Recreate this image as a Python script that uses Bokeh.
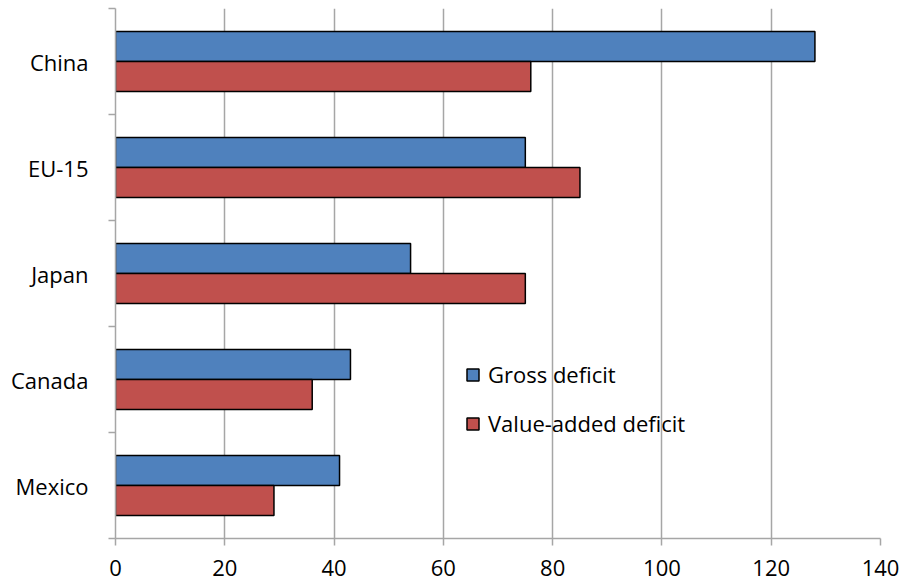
from bokeh.plotting import figure
from bokeh.models import Range1d, FixedTicker, Legend, LegendItem, ColumnDataSource
from bokeh.transform import dodge
from bokeh.embed import file_html
from bokeh.resources import INLINE

categories = ["China", "EU-15", "Japan", "Canada", "Mexico"]
gross_deficit = [128, 75, 54, 43, 41]
value_added_deficit = [76, 85, 75, 36, 29]
x_ticks = [0, 20, 40, 60, 80, 100, 120, 140]

FONT = "Open Sans"
BLUE = "#4F81BD"
RED = "#C0504D"
GRID = "#A6A6A6"

n = len(categories)
pos = [n - i - 0.5 for i in range(n)]  # category slot centres, first category on top

src = ColumnDataSource(dict(pos=pos, gross=gross_deficit, va=value_added_deficit))

p = figure(width=903, height=584, output_backend="svg", toolbar_location=None,
           y_range=Range1d(0, n), x_range=Range1d(0, 140),
           min_border_left=115, min_border_right=23, min_border_top=8, min_border_bottom=46)
p.outline_line_color = None
p.background_fill_color = "white"
p.border_fill_color = "white"

bw = 0.283
r1 = p.hbar(y=dodge("pos", 0.1415), right="gross", left=0, height=bw,
            source=src, fill_color=BLUE, line_color="black", line_width=1.5)
r2 = p.hbar(y=dodge("pos", -0.1415), right="va", left=0, height=bw,
            source=src, fill_color=RED, line_color="black", line_width=1.5)

# grids
p.ygrid.grid_line_color = None
p.xgrid.ticker = FixedTicker(ticks=x_ticks)
p.xgrid.grid_line_color = GRID
p.xgrid.grid_line_width = 1.5

# x axis
xa = p.xaxis[0]
xa.ticker = FixedTicker(ticks=x_ticks)
xa.axis_line_color = GRID
xa.axis_line_width = 1.5
xa.major_tick_line_color = GRID
xa.major_tick_line_width = 1.5
xa.major_tick_in = 0
xa.major_tick_out = 7
xa.minor_tick_line_color = None
xa.major_label_standoff = 14
xa.major_label_text_font = FONT
xa.major_label_text_font_size = "22px"
xa.major_label_text_color = "black"

# y axis: labels at slot centres, tick marks at slot boundaries
ya = p.yaxis[0]
ya.ticker = FixedTicker(ticks=pos, minor_ticks=list(range(n + 1)))
ya.major_label_overrides = {v: c for v, c in zip(pos, categories)}
ya.axis_line_color = GRID
ya.axis_line_width = 1.5
ya.major_tick_line_color = None
ya.major_tick_in = 0
ya.major_tick_out = 0
ya.minor_tick_line_color = GRID
ya.minor_tick_line_width = 1.5
ya.minor_tick_in = 0
ya.minor_tick_out = 7
ya.major_label_standoff = 20
ya.major_label_text_font = FONT
ya.major_label_text_font_size = "22px"
ya.major_label_text_color = "black"

legend = Legend(items=[LegendItem(label="Gross deficit", renderers=[r1]),
                       LegendItem(label="Value-added deficit", renderers=[r2])],
                location=(350, 100), orientation="vertical",
                label_text_font=FONT, label_text_font_size="22px", label_text_color="black",
                glyph_width=15, glyph_height=15, label_height=22, spacing=19,
                label_standoff=8, padding=0, margin=0,
                border_line_color=None, background_fill_alpha=0)
p.add_layout(legend)

open("out.html", "w").write(file_html(p, INLINE))
